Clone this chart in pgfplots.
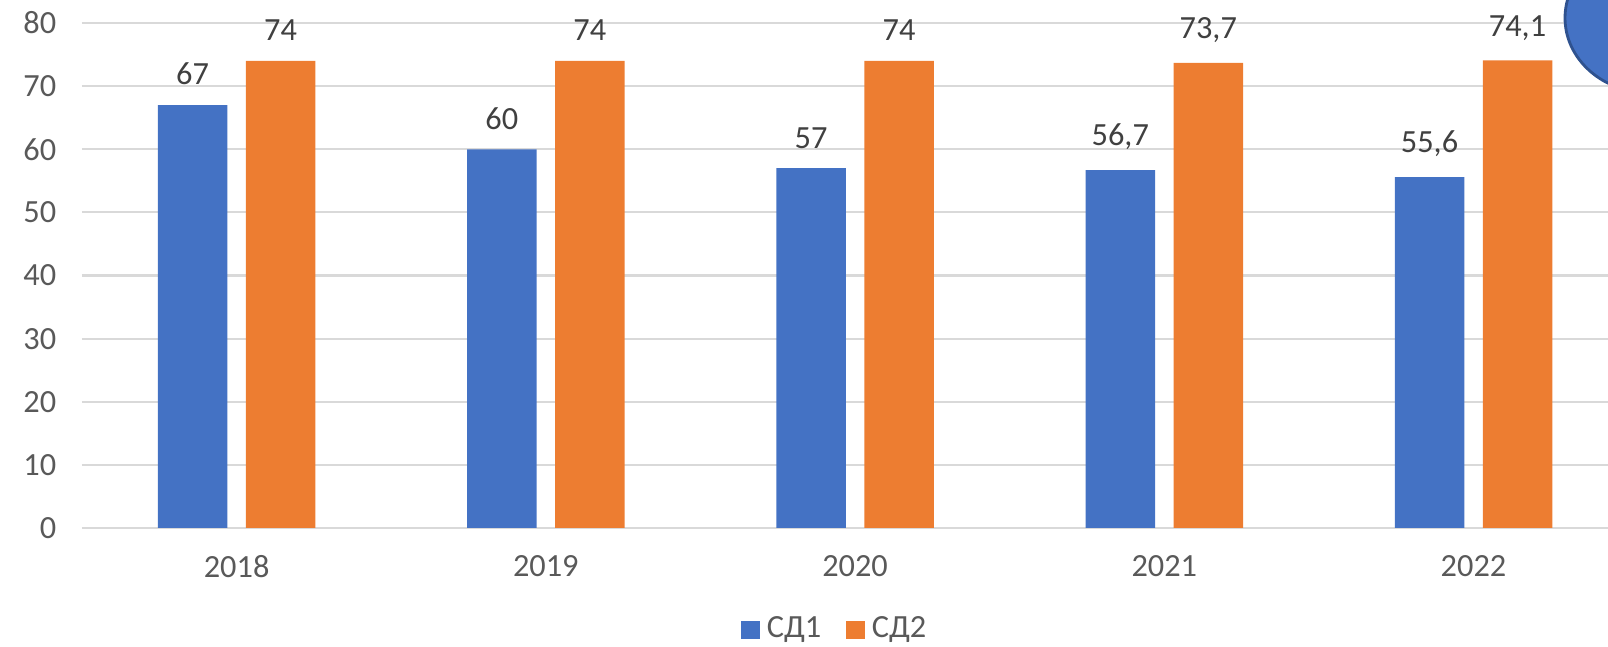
\documentclass[border=0pt]{standalone}
\usepackage{pgfplots}
\pgfplotsset{compat=1.18}
\usepackage{fontspec}
\setmainfont{Carlito}
\definecolor{cblue}{HTML}{4472C4}
\definecolor{corange}{HTML}{ED7D31}
\definecolor{tickgray}{HTML}{595959}
\definecolor{gridgray}{HTML}{D9D9D9}
\definecolor{lblgray}{HTML}{404040}
\definecolor{edgeblue}{HTML}{2F528F}
\begin{document}
\begin{tikzpicture}
\begin{axis}[
  at={(8.2mm,11.9mm)}, anchor=south west,
  scale only axis, width=152.6mm, height=50.5mm,
  xmin=-0.5, xmax=4.435, ymin=0, ymax=80,
  ytick={0,10,...,80},
  xtick={0,1,2,3,4}, xticklabels={2018,2019,2020,2021,2022},
  ybar=1.85mm, bar width=6.95mm,
  axis line style={draw=none},
  major tick length=0pt,
  ymajorgrids, grid style={gridgray, line width=0.6pt},
  /pgf/number format/assume math mode=true,
  /pgf/number format/use comma,
  ticklabel style={font=\fontsize{9.2}{11}\selectfont, text=tickgray},
  yticklabel style={xshift=-3.8pt},
  xticklabel style={yshift=-4.4pt},
  nodes near coords,
  every node near coord/.append style={font=\fontsize{9.2}{11}\selectfont, text=lblgray, yshift=2.15pt},
  legend columns=2,
  legend style={draw=none, at={(0.495,-0.202)}, anchor=center,
    font=\fontsize{9.2}{11}\selectfont, text=tickgray,
    /tikz/every even column/.append style={column sep=1.8mm}},
  legend cell align=left,
]
\addplot[fill=cblue, draw=none,
  legend image code/.code={\fill[cblue] (-0.2mm,-0.92mm) rectangle (1.65mm,0.93mm);}]
  coordinates {(0,67) (1,60) (2,57) (3,56.7) (4,55.6)};
\addplot[fill=corange, draw=none,
  legend image code/.code={\fill[corange] (-0.2mm,-0.92mm) rectangle (1.65mm,0.93mm);}]
  coordinates {(0,74) (1,74) (2,74) (3,73.7) (4,74.1)};
\legend{СД1, СД2}
\end{axis}
\begin{scope}
\clip (0,0) rectangle (160.8mm,64.7mm);
\filldraw[fill=cblue, draw=edgeblue, line width=0.8pt] (165mm,62.9mm) ellipse [x radius=8.5mm, y radius=7.5mm];
\end{scope}
\pgfresetboundingbox
\useasboundingbox (0,0) rectangle (160.8mm,64.7mm);
\end{tikzpicture}
\end{document}
